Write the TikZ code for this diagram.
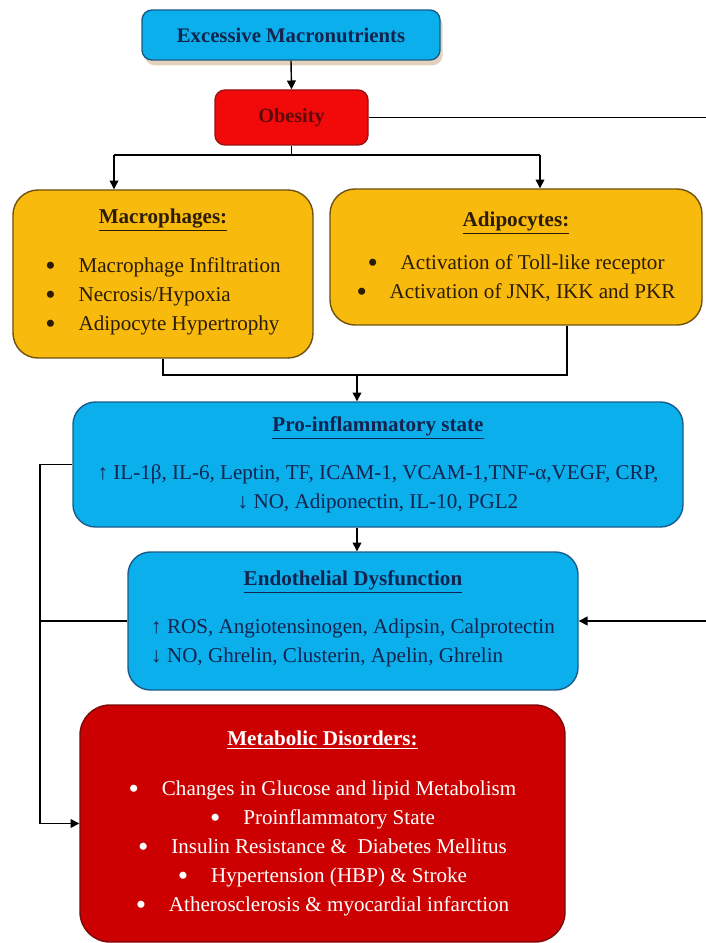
\documentclass[tikz,border=0pt]{standalone}
\usepackage{fontspec}
\usepackage{graphicx}
\setmainfont{Liberation Serif}
\usetikzlibrary{arrows.meta,shadows}

\definecolor{skyfill}{HTML}{0AAFEB}
\definecolor{skyline}{HTML}{1A5C8A}
\definecolor{navytext}{HTML}{13244F}
\definecolor{redfill}{HTML}{F20A0A}
\definecolor{redline}{HTML}{9A1010}
\definecolor{maroontext}{HTML}{5C0A0A}
\definecolor{ambfill}{HTML}{F9BA0E}
\definecolor{ambline}{HTML}{6E5210}
\definecolor{browntext}{HTML}{2A1C05}
\definecolor{deepred}{HTML}{CC0000}
\definecolor{deepredline}{HTML}{7A0A0A}
\definecolor{shadowtan}{HTML}{E3D2BE}

\newcommand{\bigbul}{\raisebox{-0.3ex}{\scalebox{1.4}{\textbullet}}}
\newcommand{\itm}[1]{\bigbul\hspace{13pt}#1}
\newcommand{\boxtitle}[1]{\underline{\textbf{#1}}}

\tikzset{
  box/.style={draw, line width=0.8pt, inner sep=0pt, align=center,
    font=\fontsize{12}{16.5}\selectfont},
  bluebox/.style={box, fill=skyfill, draw=skyline, text=navytext, rounded corners=0.45cm},
  ambbox/.style={box, fill=ambfill, draw=ambline, text=browntext, rounded corners=0.5cm},
  arr/.style={-{Triangle[length=5pt,width=5pt]}, line width=0.8pt},
  link/.style={line width=0.8pt},
}

\begin{document}
\begin{tikzpicture}
  \useasboundingbox (0,0) rectangle (14.1,-18.86);

  % boxes
  \node[box, fill=skyfill, draw=skyline, text=navytext, rounded corners=0.2cm,
        minimum width=5.96cm, minimum height=1cm,
        drop shadow={shadow xshift=1.5pt, shadow yshift=-3pt, fill=shadowtan, opacity=1},
        font=\fontsize{11.8}{14}\selectfont\bfseries]
        (exc) at (5.82,-0.70) {Excessive Macronutrients};
  \node[box, fill=redfill, draw=redline, text=maroontext, rounded corners=0.2cm,
        minimum width=3.06cm, minimum height=1.1cm,
        font=\fontsize{11.5}{14}\selectfont\bfseries]
        (obes) at (5.83,-2.35) {Obesity};
  \node[ambbox, minimum width=6cm, minimum height=3.36cm] (macro) at (3.26,-5.48)
        {\boxtitle{Macrophages:}\\[11pt]
         \begin{tabular}{@{}c@{\hspace{13pt}}l@{}}
           \bigbul & Macrophage Infiltration\\
           \bigbul & Necrosis/Hypoxia\\
           \bigbul & Adipocyte Hypertrophy
         \end{tabular}};
  \node[ambbox, minimum width=7.44cm, minimum height=2.72cm] (adip) at (10.32,-5.14)
        {\boxtitle{Adipocytes:}\\[8pt]
         \itm{Activation of Toll-like receptor}\\
         \itm{Activation of JNK, IKK and PKR}};
  \node[bluebox, minimum width=12.2cm, minimum height=2.5cm] (pro) at (7.56,-9.29)
        {\boxtitle{Pro-inflammatory state}\\[11pt]
         ↑ IL-1β, IL-6, Leptin, TF, ICAM-1, VCAM-1,TNF-α,VEGF, CRP,\\
         ↓ NO, Adiponectin, IL-10, PGL2};
  \node[bluebox, minimum width=9cm, minimum height=2.76cm] (endo) at (7.06,-12.42)
        {\boxtitle{Endothelial Dysfunction}\\[10pt]
         \begin{tabular}{@{}l@{}}
           ↑ ROS, Angiotensinogen, Adipsin, Calprotectin\\
           ↓ NO, Ghrelin, Clusterin, Apelin, Ghrelin
         \end{tabular}};
  \node[box, fill=deepred, draw=deepredline, text=white, rounded corners=0.6cm,
        minimum width=9.7cm, minimum height=4.74cm] (metab) at (6.45,-16.47)
        {\boxtitle{Metabolic Disorders:}\\[12pt]
         \itm{Changes in Glucose and lipid Metabolism}\\
         \itm{Proinflammatory State}\\
         \itm{Insulin Resistance \&\ \ Diabetes Mellitus}\\
         \itm{Hypertension (HBP) \& Stroke}\\
         \itm{Atherosclerosis \& myocardial infarction}};

  % branch points
  \coordinate (brL) at (2.28,-3.10);
  \coordinate (brR) at (10.8,-3.10);
  \coordinate (jn) at (7.14,-7.50);
  \coordinate (tapR) at (11.34,-7.50);
  \coordinate (busL) at (0.80,-9.44);
  \coordinate (rim) at (14.24,0);

  % connectors
  \draw[arr] (exc.south) -- (obes.north);
  \draw[link] (obes.south) -- (obes.south |- brL);
  \draw[link] (brL) -- (brR);
  \draw[arr] (brL) -- (brL |- macro.north);
  \draw[arr] (brR) -- (brR |- adip.north);
  \draw[link] (macro.south) |- (jn);
  \draw[link] (tapR |- adip.south) -- (tapR) -- (jn);
  \draw[arr] (jn) -- (jn |- pro.north);
  \draw[arr] (jn |- pro.south) -- (jn |- endo.north);
  \draw[arr] (pro.west) -| (busL) |- (metab.west);
  \draw[link] (endo.west) -- (endo.west -| busL);
  \draw[arr] (obes.east) -- (obes.east -| rim) |- (endo.east);
\end{tikzpicture}
\end{document}
